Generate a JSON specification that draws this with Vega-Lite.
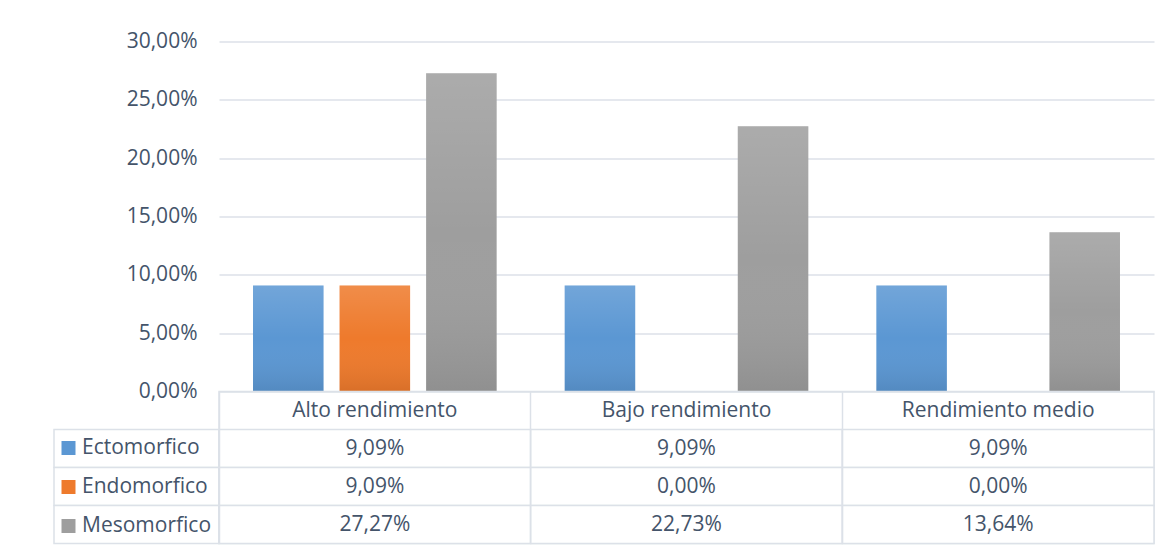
{
  "$schema": "https://vega.github.io/schema/vega-lite/v6.json",
  "padding": {"left": 53, "top": 30.5, "right": 5, "bottom": 0},
  "background": "white",
  "config": {
    "locale": {"number": {"decimal": ",", "thousands": ".", "grouping": [3], "currency": ["", " €"]}},
    "view": {"stroke": null},
    "font": "Open Sans"
  },
  "datasets": {
    "tabla": [
      {"category": "Alto rendimiento", "series": "Ectomorfico", "value": 0.0909},
      {"category": "Alto rendimiento", "series": "Endomorfico", "value": 0.0909},
      {"category": "Alto rendimiento", "series": "Mesomorfico", "value": 0.2727},
      {"category": "Bajo rendimiento", "series": "Ectomorfico", "value": 0.0909},
      {"category": "Bajo rendimiento", "series": "Endomorfico", "value": 0.0},
      {"category": "Bajo rendimiento", "series": "Mesomorfico", "value": 0.2273},
      {"category": "Rendimiento medio", "series": "Ectomorfico", "value": 0.0909},
      {"category": "Rendimiento medio", "series": "Endomorfico", "value": 0.0},
      {"category": "Rendimiento medio", "series": "Mesomorfico", "value": 0.1364}
    ]
  },
  "bounds": "flush",
  "spacing": 0,
  "columns": 2,
  "concat": [
    {
      "width": 165,
      "height": 350,
      "data": {"values": [{"t": ""}]},
      "mark": {"type": "text"},
      "encoding": {"text": {"field": "t", "type": "nominal"}}
    },
    {
      "width": 935,
      "height": 350,
      "data": {"name": "tabla"},
      "encoding": {
        "x": {"field": "category", "type": "nominal", "sort": ["Alto rendimiento", "Bajo rendimiento", "Rendimiento medio"], "scale": {"paddingInner": 0, "paddingOuter": 0}, "axis": null},
        "xOffset": {"field": "series", "type": "nominal", "sort": ["Ectomorfico", "Endomorfico", "Mesomorfico"], "scale": {"paddingInner": 0.185, "paddingOuter": 0.393}},
        "y": {
          "field": "value", "type": "quantitative",
          "scale": {"domain": [0, 0.3], "nice": false},
          "axis": {
            "values": [0, 0.05, 0.1, 0.15, 0.2, 0.25, 0.3],
            "format": ".2%", "title": null, "domain": false, "ticks": false,
            "labelPadding": 22, "labelFontSize": 21, "labelColor": "#44546A", "labelFont": "Open Sans",
            "gridColor": "#DCE1E8", "gridWidth": 1.5
          }
        }
      },
      "layer": [
        {
          "mark": {"type": "bar"},
          "encoding": {
            "color": {
              "field": "series", "type": "nominal",
              "scale": {"domain": ["Ectomorfico", "Endomorfico", "Mesomorfico"], "range": ["#5B97D3", "#EE7A2C", "#9E9E9E"]},
              "legend": {
                "title": null, "orient": "none", "legendX": 4, "legendY": 396,
                "symbolType": "square", "symbolSize": 196, "symbolStrokeWidth": 0,
                "labelFontSize": 21, "labelColor": "#44546A", "labelFont": "Open Sans",
                "labelOffset": 3, "rowPadding": 17, "padding": 0
              }
            }
          }
        },
        {
          "mark": {
            "type": "bar",
            "fill": {
              "gradient": "linear", "x1": 0, "y1": 0, "x2": 0, "y2": 1,
              "stops": [
                {"offset": 0, "color": "rgba(255,255,255,0.14)"},
                {"offset": 0.5, "color": "rgba(255,255,255,0)"},
                {"offset": 1, "color": "rgba(0,0,0,0.09)"}
              ]
            }
          }
        }
      ]
    },
    {
      "width": 165,
      "height": 152,
      "data": {"name": "tabla"},
      "transform": [{"filter": "datum.category == 'Alto rendimiento'"}],
      "mark": {"type": "rect", "fill": "white", "stroke": "#DCE1E8", "strokeWidth": 1.5},
      "encoding": {
        "y": {"field": "series", "type": "nominal", "scale": {"domain": ["_h", "Ectomorfico", "Endomorfico", "Mesomorfico"], "paddingInner": 0, "paddingOuter": 0}, "axis": null}
      }
    },
    {
      "width": 935,
      "height": 152,
      "view": {"stroke": "#DCE1E8", "strokeWidth": 1.5},
      "data": {"name": "tabla"},
      "encoding": {
        "x": {
          "field": "category", "type": "nominal",
          "sort": ["Alto rendimiento", "Bajo rendimiento", "Rendimiento medio"],
          "scale": {"paddingInner": 0, "paddingOuter": 0},
          "axis": {"bandPosition": 0, "grid": true, "gridColor": "#DCE1E8", "gridWidth": 1.5, "labels": false, "ticks": false, "domain": false, "title": null}
        }
      },
      "layer": [
        {
          "mark": {"type": "rect", "fill": "white", "stroke": "#DCE1E8", "strokeWidth": 1.5},
          "encoding": {
            "y": {
              "field": "series", "type": "nominal",
              "scale": {"domain": ["_h", "Ectomorfico", "Endomorfico", "Mesomorfico"], "paddingInner": 0, "paddingOuter": 0},
              "axis": null
            }
          }
        },
        {
          "mark": {"type": "text", "fontSize": 21, "color": "#44546A"},
          "encoding": {
            "y": {"field": "series", "type": "nominal"},
            "text": {"field": "value", "type": "quantitative", "format": ".2%"}
          }
        },
        {
          "transform": [{"filter": "datum.series == 'Ectomorfico'"}],
          "mark": {"type": "text", "fontSize": 21, "color": "#44546A"},
          "encoding": {
            "y": {"datum": "_h", "type": "nominal"},
            "text": {"field": "category", "type": "nominal"}
          }
        }
      ]
    }
  ]
}
